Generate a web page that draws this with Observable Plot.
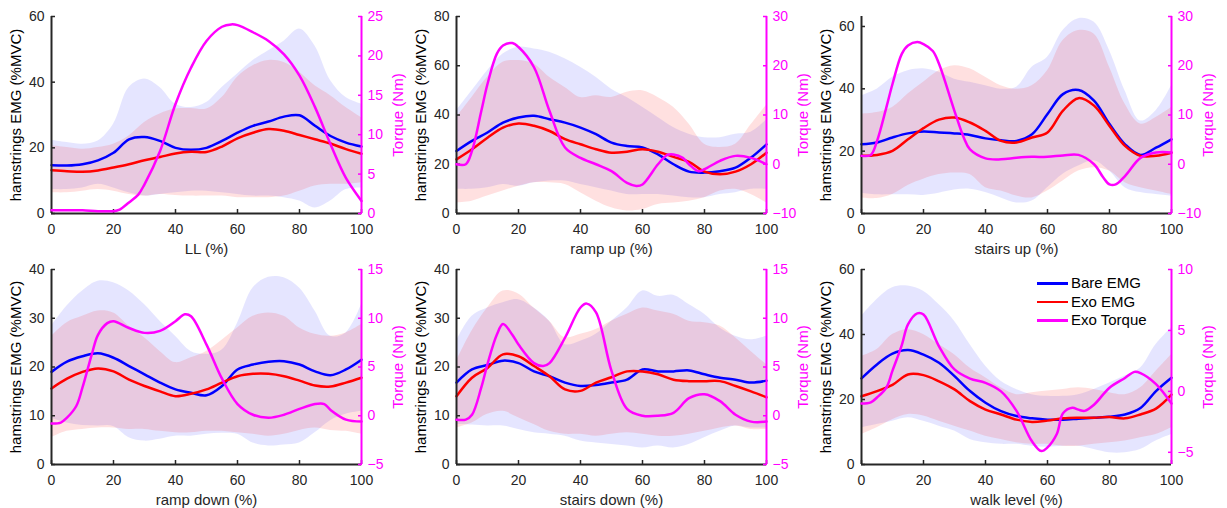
<!DOCTYPE html>
<html>
<head>
<meta charset="utf-8">
<script src="https://cdn.jsdelivr.net/npm/d3@7"></script>
<script src="https://cdn.jsdelivr.net/npm/@observablehq/plot@0.6"></script>
<style>
  html, body { margin: 0; padding: 0; background: #fff; }
  #chart { position: relative; width: 1227px; height: 508px; overflow: hidden; font-family: "Liberation Sans", Arial, sans-serif; }
  .panel { position: absolute; width: 405px; height: 254px; }
  .panel svg { position: absolute; left: 0; top: 0; }
  .legend { position: absolute; font-size: 15px; color: #000; line-height: 18.5px; }
  .legend .row { display: flex; align-items: center; height: 18.5px; }
  .legend .sw { width: 31px; height: 2.5px; margin-right: 3px; }
</style>
</head>
<body>
<div id="chart"></div>
<script>
// ---------- data ----------
const xs = [0,5,10,15,20,25,30,35,40,45,50,55,60,65,70,75,80,85,90,95,100];
const xTicks = [0,20,40,60,80,100];

// LL
const llBare   = [14.7,14.6,15.0,16.2,18.5,22.6,23.3,22.1,20.0,19.4,20.0,22.1,24.6,26.7,28.0,29.5,29.9,26.7,23.6,21.6,20.4];
const llExo    = [13.2,12.9,12.7,13.1,14.0,15.0,16.2,17.2,18.3,18.8,18.7,20.4,22.9,24.6,25.7,25.2,23.9,22.6,21.3,19.6,18.2];
const llBareHi = [22.3,21.6,21.1,22.1,27.2,38.4,41.0,38.4,33.3,32.3,33.8,38.4,42.5,46.6,49.6,52.5,56.2,51.0,40.5,35.3,33.3];
const llBareLo = [7.3,7.3,7.8,8.9,7.8,6.3,5.3,5.8,6.3,6.8,6.8,6.3,5.8,5.3,5.3,4.8,3.8,1.7,3.8,7.3,7.8];
const llExoHi  = [20.6,20.1,19.6,20.1,21.1,23.6,27.7,30.3,31.8,32.0,31.8,35.3,41.5,45.0,46.6,46.0,43.0,38.9,35.9,32.3,29.2];
const llExoLo  = [6.3,6.3,6.8,7.3,6.8,5.8,5.3,5.8,5.5,5.3,5.3,5.3,4.8,4.8,4.8,5.3,6.8,8.4,8.9,8.9,9.4];
const llTqX    = [0,5,10,15,20,22,25,28,30,35,40,45,50,55,58,60,65,70,75,80,85,90,95,100];
const llTq     = [0.4,0.4,0.4,0.3,0.3,0.5,1.4,2.4,3.7,7.9,13.9,18.5,21.9,23.7,24.0,23.9,23.0,21.9,20.2,17.5,13.5,8.8,4.5,1.6];

// ramp up
const ruBare   = [25.4,29.5,32.9,36.9,39.0,39.7,38.3,36.9,34.9,32.2,28.8,27.4,26.8,24.0,20.0,17.0,16.6,17.2,18.6,22.7,28.1];
const ruExo    = [22.0,26.1,30.8,34.9,36.5,35.6,33.5,30.2,28.1,26.1,24.7,25.1,26.1,25.1,23.0,21.0,17.0,15.9,17.0,20.0,24.7];
const ruBareHi = [41.7,49.8,58.0,64.8,67.5,66.8,65.5,62.8,59.4,55.3,50.5,47.1,43.1,39.0,34.9,32.2,30.8,30.8,32.2,33.0,38.0];
const ruBareLo = [9.8,9.8,10.5,11.8,11.1,12.5,13.2,13.2,11.8,10.5,9.1,7.7,7.7,7.7,7.1,6.4,6.4,7.7,8.4,9.8,9.8];
const ruExoHi  = [39.0,47.1,55.3,61.4,62.1,60.7,55.3,51.2,47.1,47.8,47.1,49.2,49.8,47.1,43.1,36.3,28.1,26.8,28.1,36.0,44.0];
const ruExoLo  = [4.3,5.0,7.1,9.1,11.1,12.5,12.5,11.8,8.4,5.0,2.3,1.0,1.6,3.7,4.3,5.0,6.4,9.1,9.8,7.7,4.3];
const ruTqX    = [0,3,5,8,10,13,15,18,20,25,30,35,40,45,50,55,58,60,65,68,70,73,75,78,80,85,90,95,100];
const ruTq     = [0,0,2.7,10.8,16.3,22.4,24.1,24.6,23.8,19.7,10.8,3.4,1.3,0,-1.4,-3.8,-4.4,-4.1,0,1.9,2.0,1.3,0,-1.4,-1.0,0.7,1.7,1.3,0];

// stairs up
const suBare   = [22.2,22.8,24.4,25.7,26.3,26.0,25.7,25.2,24.1,23.5,23.3,25.4,31.9,38.3,39.6,36.2,28.7,22.2,18.8,21.1,23.8];
const suExo    = [18.5,18.8,20.1,23.8,27.4,30.1,30.8,29.2,26.5,23.3,22.8,24.4,26.0,33.0,37.0,34.6,28.1,21.7,18.5,18.5,19.5];
const suBareHi = [37.8,39.9,43.7,45.8,46.4,45.3,43.1,42.1,41.0,39.9,40.5,46.9,50.1,58.7,62.5,61.4,52.3,39.4,29.7,33.0,41.0];
const suBareLo = [6.5,6.0,6.0,6.0,5.8,6.5,7.5,7.8,6.7,5.0,3.4,4.0,8.3,12.6,15.2,16.9,13.6,8.3,6.7,6.1,5.6];
const suExoHi  = [31.9,32.4,34.0,38.3,42.1,45.8,47.4,46.4,43.7,41.0,39.9,41.0,45.8,55.5,58.7,57.6,46.9,35.1,28.7,30.8,34.0];
const suExoLo  = [5.0,4.8,6.1,9.0,11.0,12.5,13.0,12.5,8.3,7.2,5.6,5.0,7.2,10.4,13.6,14.7,13.6,9.9,8.3,7.2,6.1];
const suTqX    = [0,3,5,8,10,13,15,18,20,23,25,30,33,35,40,45,50,55,60,65,70,75,78,80,82,85,90,95,100];
const suTq     = [1.7,1.9,4.7,11.5,16.3,22.4,24.1,24.8,24.4,23.0,20.4,10.8,5.4,3.0,1.2,1.0,1.3,1.5,1.5,1.8,1.9,0,-2.7,-4.1,-4.1,-2.4,1.3,2.4,2.4];

// ramp down
const rdBare   = [19.0,21.1,22.2,22.8,21.9,20.2,18.5,16.8,15.4,14.7,14.2,16.1,19.5,20.5,21.1,21.2,20.5,19.1,18.3,19.5,21.5];
const rdExo    = [15.6,17.6,19.0,19.7,19.1,17.4,16.1,15.0,14.0,14.5,15.4,16.8,18.1,18.6,18.6,18.1,17.2,16.2,16.0,16.8,17.8];
const rdBareHi = [28.4,32.5,35.6,37.6,37.3,35.6,32.8,29.4,26.3,23.2,22.6,23.5,29.0,36.2,38.4,38.3,36.2,31.5,26.3,27.0,32.8];
const rdBareLo = [9.5,8.5,8.0,7.9,7.8,5.5,4.8,5.2,5.8,5.8,6.2,6.4,6.2,4.4,3.8,4.0,4.4,6.5,9.0,10.3,10.9];
const rdExoHi  = [26.3,29.1,30.4,31.5,31.1,28.4,26.0,23.2,20.9,21.9,23.2,25.5,28.0,30.4,31.1,30.4,28.0,26.7,26.3,27.0,28.7];
const rdExoLo  = [5.5,6.8,7.2,7.5,7.5,7.2,7.2,6.8,6.5,6.5,6.8,6.8,6.5,6.2,5.8,6.2,7.0,7.5,7.0,6.8,6.2];
const rdTqX    = [0,3,5,8,10,13,15,18,20,25,30,35,40,43,45,50,55,60,65,70,75,80,85,88,90,95,100];
const rdTq     = [-0.8,-0.7,-0.2,1.0,2.9,6.3,8.3,9.5,9.7,9.0,8.5,8.7,9.7,10.4,10.2,7.3,3.8,1.2,0.1,-0.2,0.1,0.7,1.2,1.2,0.6,-0.4,-0.6];

// stairs down
const sdBare   = [16.8,19.5,20.4,21.3,20.8,19.1,18.1,16.8,16.1,16.3,16.8,17.4,19.5,19.1,19.1,19.3,18.5,17.8,17.4,16.8,17.2];
const sdExo    = [14.0,17.8,19.8,22.6,22.2,20.2,18.1,15.4,15.1,16.8,17.9,19.1,19.1,18.5,17.4,17.1,17.1,17.1,16.1,15.0,13.8];
const sdBareHi = [25.3,30.4,32.1,33.2,33.8,32.1,29.4,24.6,25.3,26.7,29.4,32.1,35.6,34.5,34.7,32.8,30.8,28.0,26.3,25.6,26.3];
const sdBareLo = [8.2,8.1,7.9,7.9,7.2,6.5,6.2,5.8,4.8,4.4,4.1,3.8,3.4,3.8,3.4,4.1,5.5,6.8,7.9,7.5,7.5];
const sdExoHi  = [21.2,27.4,32.1,35.6,35.0,32.1,29.4,26.0,26.7,27.7,29.4,30.8,32.1,31.5,30.8,29.4,29.1,28.4,26.0,23.2,20.5];
const sdExoLo  = [7.5,8.5,10.3,10.9,9.6,8.2,6.8,6.2,6.2,5.8,6.2,6.5,6.2,5.8,5.8,6.2,6.8,7.5,7.9,7.2,7.2];
const sdTqX    = [0,3,5,8,10,13,15,18,20,25,28,30,35,40,42,45,50,55,60,65,70,75,80,85,90,95,100];
const sdTq     = [-0.4,-0.4,0.1,2.9,5.3,8.3,9.4,8.3,7.3,5.4,5.1,5.4,8.0,11.1,11.5,10.6,4.6,0.7,0,0,0.3,1.8,2.2,1.5,0.1,-0.6,-0.6];

// walk level
const wlBare   = [26.5,30.8,34.1,35.2,33.8,31.3,27.2,22.6,19.0,16.4,14.9,14.2,13.8,13.8,14.1,14.4,14.7,15.4,17.4,22.6,26.7];
const wlExo    = [21.0,22.6,24.5,27.7,27.5,25.6,23.1,19.5,16.9,15.4,13.8,13.1,13.5,14.2,14.4,14.4,14.6,14.2,15.4,17.2,21.5];
const wlBareHi = [45.6,50.8,54.4,54.9,53.3,49.2,44.1,36.9,30.3,25.6,23.1,21.5,21.0,21.0,21.5,23.1,25.1,27.2,29.7,36.9,42.1];
const wlBareLo = [11.3,12.3,13.3,14.4,13.3,11.8,10.3,7.7,6.7,6.2,6.2,5.6,5.3,5.6,5.6,4.6,3.6,3.6,4.6,7.2,9.2];
const wlExoHi  = [33.3,35.4,40.0,41.5,40.0,36.9,33.8,29.7,26.7,23.6,21.5,22.1,22.6,23.1,23.6,23.1,22.1,21.5,23.6,28.7,33.8];
const wlExoLo  = [9.2,11.3,13.8,15.4,14.9,13.3,11.8,10.3,8.7,7.7,6.7,6.2,6.2,5.6,5.6,6.2,6.7,7.2,8.2,9.2,11.3];
const wlTqX    = [0,3,5,8,10,13,15,18,20,25,30,35,40,45,50,55,58,60,63,65,68,70,72,75,80,85,88,90,95,100];
const wlTq     = [-1.0,-0.9,-0.5,0.3,1.7,3.8,5.5,6.4,6.3,3.7,1.8,1.05,0.7,0,-1.6,-4.1,-4.9,-4.6,-3.5,-1.8,-1.35,-1.5,-1.6,-1.1,0.3,1.1,1.6,1.5,0.6,-1.0];

// labels
const xLabels = ["LL (%)", "ramp up (%)", "stairs up (%)", "ramp down (%)", "stairs down (%)", "walk level (%)"];
const yLabelLeft = "hamstrings EMG (%MVC)";
const yLabelRight = "Torque (Nm)";
const legendLabels = ["Bare EMG", "Exo EMG", "Exo Torque"];

// axis domains / ticks
const emgDomains = [[0,60],[0,80],[0,63.2],[0,40],[0,40],[0,60]];
const emgTicks = [[0,20,40,60],[0,20,40,60,80],[0,20,40,60],[0,10,20,30,40],[0,10,20,30,40],[0,20,40,60]];
const tqDomains = [[0,25],[-10,30],[-10,30],[-5,15],[-5,15],[-6,10]];
const tqTicks = [[0,5,10,15,20,25],[-10,0,10,20,30],[-10,0,10,20,30],[-5,0,5,10,15],[-5,0,5,10,15],[-5,0,5,10]];

const series = [
  [llBare, llExo, llBareHi, llBareLo, llExoHi, llExoLo, llTqX, llTq],
  [ruBare, ruExo, ruBareHi, ruBareLo, ruExoHi, ruExoLo, ruTqX, ruTq],
  [suBare, suExo, suBareHi, suBareLo, suExoHi, suExoLo, suTqX, suTq],
  [rdBare, rdExo, rdBareHi, rdBareLo, rdExoHi, rdExoLo, rdTqX, rdTq],
  [sdBare, sdExo, sdBareHi, sdBareLo, sdExoHi, sdExoLo, sdTqX, sdTq],
  [wlBare, wlExo, wlBareHi, wlBareLo, wlExoHi, wlExoLo, wlTqX, wlTq]
];

// ---------- drawing ----------
const BLUE = "#0000ff", RED = "#ff0000", MAG = "#ff00ff", AX = "#262626";
const FONT = "'Liberation Sans', Arial, sans-serif";
const chart = document.getElementById("chart");

series.forEach((s, i) => {
  const [bare, exo, bHi, bLo, eHi, eLo, tqX, tq] = s;
  const row = Math.floor(i / 3), col = i % 3;
  const W = 405, H = 254;
  const margins = row === 0
    ? {marginLeft: 51, marginRight: 44, marginTop: 16, marginBottom: 41}
    : {marginLeft: 51, marginRight: 44, marginTop: 15, marginBottom: 44};

  const emgRows = xs.map((x, k) => ({x, bare: bare[k], exo: exo[k], bHi: bHi[k], bLo: bLo[k], eHi: eHi[k], eLo: eLo[k]}));
  const tqRows = tqX.map((x, k) => ({x, t: tq[k]}));

  const panel = document.createElement("div");
  panel.className = "panel";
  panel.style.left = (col * 405) + "px";
  panel.style.top = (row * 254) + "px";
  chart.appendChild(panel);

  const emg = Plot.plot({
    width: W, height: H, ...margins,
    style: {fontFamily: FONT, fontSize: "14px", color: AX, background: "transparent", overflow: "visible"},
    x: {domain: [0, 100]},
    y: {domain: emgDomains[i]},
    marks: [
      Plot.areaY(emgRows, {x: "x", y1: "bLo", y2: "bHi", fill: BLUE, fillOpacity: 0.1, curve: "catmull-rom"}),
      Plot.areaY(emgRows, {x: "x", y1: "eLo", y2: "eHi", fill: RED, fillOpacity: 0.12, curve: "catmull-rom"}),
      Plot.line(emgRows, {x: "x", y: "bare", stroke: BLUE, strokeWidth: 2.5, curve: "catmull-rom"}),
      Plot.line(emgRows, {x: "x", y: "exo", stroke: RED, strokeWidth: 2.5, curve: "catmull-rom"}),
      Plot.ruleY([emgDomains[i][0]], {stroke: AX, strokeWidth: 2}),
      Plot.ruleX([0], {stroke: AX, strokeWidth: 2}),
      Plot.axisX({ticks: xTicks, tickSize: -4, tickPadding: 15, label: null, strokeWidth: 1.5}),
      Plot.axisY({ticks: emgTicks[i], tickSize: -4, tickPadding: 11, label: null, strokeWidth: 1.5}),
      Plot.text([xLabels[i]], {text: d => d, frameAnchor: "bottom", dy: 35.5, textAnchor: "middle", lineAnchor: "middle", fontSize: 15, fill: AX}),
      Plot.text([yLabelLeft], {text: d => d, frameAnchor: "left", dx: -35, rotate: -90, textAnchor: "middle", lineAnchor: "middle", fontSize: 15, fill: "#000"})
    ]
  });
  panel.appendChild(emg);

  const torque = Plot.plot({
    width: W, height: H, ...margins,
    style: {fontFamily: FONT, fontSize: "14px", color: MAG, background: "transparent", overflow: "visible"},
    x: {domain: [0, 100], axis: null},
    y: {domain: tqDomains[i]},
    marks: [
      Plot.line(tqRows, {x: "x", y: "t", stroke: MAG, strokeWidth: 2.5, curve: "catmull-rom"}),
      Plot.ruleX([100], {stroke: MAG, strokeWidth: 2}),
      Plot.axisY({anchor: "right", ticks: tqTicks[i], tickSize: -4, tickPadding: 10, label: null, strokeWidth: 1.5}),
      Plot.text([yLabelRight], {text: d => d, frameAnchor: "right", dx: 37, rotate: -90, textAnchor: "middle", lineAnchor: "middle", fontSize: 15, fill: MAG})
    ]
  });
  panel.appendChild(torque);
});

// legend (inside walk level panel)
const legend = document.createElement("div");
legend.className = "legend";
legend.style.left = "1037px";
legend.style.top = "274px";
[BLUE, RED, MAG].forEach((c, k) => {
  const r = document.createElement("div");
  r.className = "row";
  const sw = document.createElement("span");
  sw.className = "sw";
  sw.style.background = c;
  const t = document.createElement("span");
  t.textContent = legendLabels[k];
  r.appendChild(sw); r.appendChild(t);
  legend.appendChild(r);
});
chart.appendChild(legend);
</script>
</body>
</html>
